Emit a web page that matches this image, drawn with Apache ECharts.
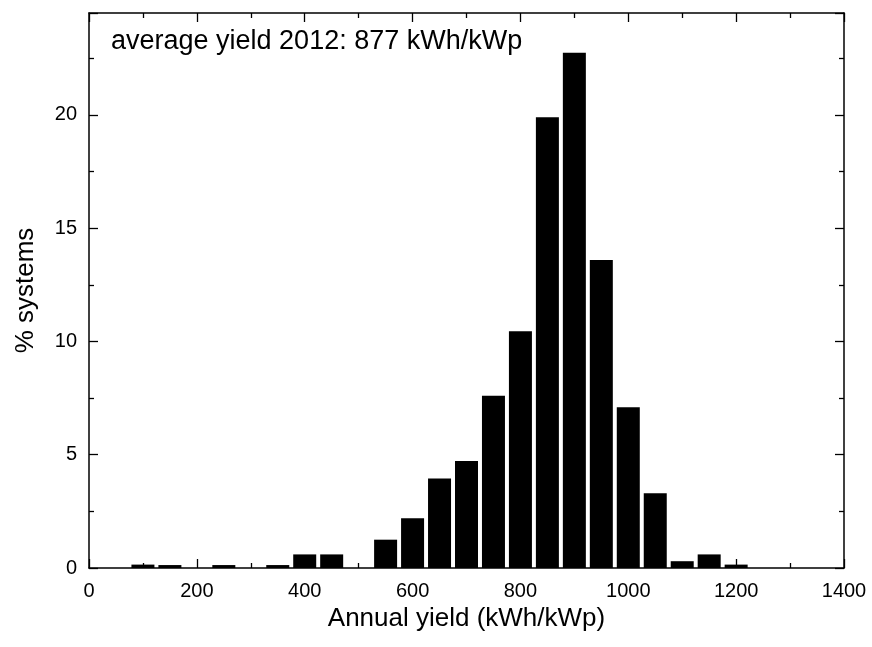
<!DOCTYPE html>
<html>
<head>
<meta charset="utf-8">
<script src="https://cdn.jsdelivr.net/npm/echarts@6/dist/echarts.min.js"></script>
<style>
html, body { margin: 0; padding: 0; background: #fff; }
#chart { width: 872px; height: 647px; }
</style>
</head>
<body>
<div id="chart"></div>
<script>
// bin centres (kWh/kWp) and share of systems (%)
var binCenters = [100, 150, 200, 250, 300, 350, 400, 450, 500, 550, 600, 650,
    700, 750, 800, 850, 900, 950, 1000, 1050, 1100, 1150, 1200];
var shares = [0.15, 0.13, 0, 0.13, 0, 0.13, 0.6, 0.6, 0, 1.25, 2.2, 3.95,
    4.72, 7.6, 10.45, 19.9, 22.75, 13.6, 7.1, 3.3, 0.3, 0.6, 0.15];
var note = 'average yield 2012: 877 kWh/kWp';

var FONT = '"Liberation Sans", Arial, sans-serif';

function getBars() {
    var out = [];
    for (var i = 0; i < binCenters.length; i++) {
        out.push([binCenters[i], shares[i]]);
    }
    return out;
}

function frameAxis(extra) {
    var ax = {
        axisLine: { show: true, onZero: false, lineStyle: { color: '#000', width: 1.5 } },
        axisTick: { show: true, inside: true, length: 9, lineStyle: { color: '#000', width: 1.3 } },
        minorTick: { show: true, splitNumber: 2, length: 5, lineStyle: { color: '#000', width: 1.3 } },
        splitLine: { show: false },
        axisLabel: { show: false }
    };
    for (var k in extra) ax[k] = extra[k];
    return ax;
}

function plain(v) {
    return String(v);
}

function drawHist() {
    var myChart = echarts.init(document.getElementById('chart'));
    var option = {
        animation: false,
        grid: { left: 89, right: 28, top: 13, bottom: 79 },
        xAxis: [
            frameAxis({
                type: 'value', min: 0, max: 1400, interval: 200, position: 'bottom',
                axisLabel: { show: true, color: '#000', fontSize: 20, fontFamily: FONT, margin: 13, formatter: plain },
                name: 'Annual yield (kWh/kWp)', nameLocation: 'middle', nameGap: 29,
                nameTextStyle: { color: '#000', fontSize: 26, fontFamily: FONT }
            }),
            frameAxis({ type: 'value', min: 0, max: 1400, interval: 200, position: 'top' })
        ],
        yAxis: [
            frameAxis({
                type: 'value', min: 0, max: 24.5, interval: 5, position: 'left',
                axisLabel: { show: true, color: '#000', fontSize: 20, fontFamily: FONT, margin: 12, showMaxLabel: false, formatter: plain },
                name: '% systems', nameLocation: 'middle', nameGap: 50, nameRotate: 90,
                nameTextStyle: { color: '#000', fontSize: 26, fontFamily: FONT }
            }),
            frameAxis({ type: 'value', min: 0, max: 24.5, interval: 5, position: 'right' })
        ],
        graphic: [{
            type: 'text', left: 111, top: 28,
            style: { text: note, fill: '#000', font: '27px ' + FONT }
        }],
        series: [{
            type: 'bar',
            data: getBars(),
            barWidth: 23,
            itemStyle: { color: '#000' }
        }]
    };
    myChart.setOption(option);
}
window.onload = function () {
    drawHist();
};
</script>
</body>
</html>
